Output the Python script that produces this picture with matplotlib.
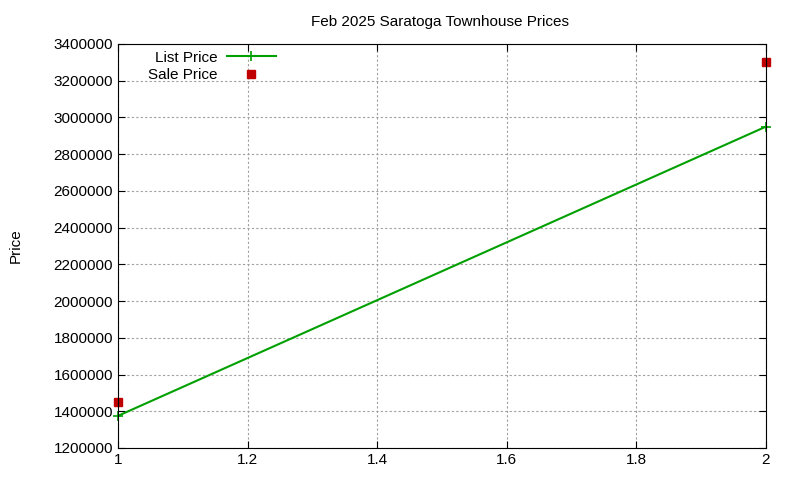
import matplotlib
matplotlib.use("Agg")
import matplotlib.pyplot as plt

list_x = [1, 2]
list_price = [1375000, 2950000]
sale_x = [1, 2]
sale_price = [1450000, 3300000]
title = "Feb 2025 Saratoga Townhouse Prices"

plt.rcParams['font.family'] = ['Liberation Sans', 'DejaVu Sans']
fig = plt.figure(figsize=(8, 4.8), dpi=100)
ax = fig.add_axes([0.1475, 0.0667, 0.81, 0.8417])
ax.plot(list_x, list_price, color='#00a000', lw=1.5, marker='+', ms=7, mew=1.2, label='List Price', clip_on=False)
ax.plot(sale_x, sale_price, ls='none', marker='s', ms=5.5, color='#c00000', label='Sale Price', clip_on=False)
ax.set_xlim(1, 2)
ax.set_ylim(1200000, 3400000)
ax.set_xticks([1, 1.2, 1.4, 1.6, 1.8, 2])
ax.set_xticklabels(['1', '1.2', '1.4', '1.6', '1.8', '2'])
ax.set_yticks(range(1200000, 3400001, 200000))
ax.set_yticklabels([str(v) for v in range(1200000, 3400001, 200000)])
ax.grid(True, color='#a0a0a0', ls=(0, (2, 2)), lw=0.8)
ax.tick_params(direction='in', labelsize=11, top=True, right=True, length=5)
ax.set_ylabel('Price', fontsize=11, labelpad=22)
fig.text(0.55, 0.955, title, ha='center', va='center', fontsize=11)
leg = ax.legend(loc='upper left', bbox_to_anchor=(0.03, 1.01), frameon=False, markerfirst=False,
                fontsize=11, handlelength=3.2, borderaxespad=0.3, labelspacing=0.25, handletextpad=0.6)
for t in leg.get_texts():
    t.set_ha('right')
fig.savefig('out.png', dpi=100)
